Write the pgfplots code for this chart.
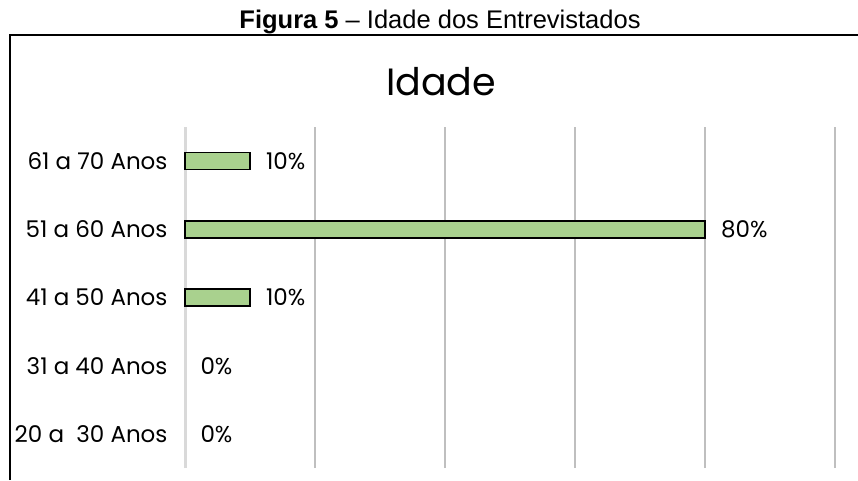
\documentclass[border=0pt]{standalone}
\usepackage{pgfplots}
\pgfplotsset{compat=1.18}
\usepackage{fontspec}
\setmainfont{Poppins}
\newfontfamily\capfont{Liberation Sans}
\definecolor{barfill}{HTML}{A9D18E}
\definecolor{gridgray}{HTML}{BFBFBF}
\definecolor{axisgray}{HTML}{D9D9D9}

\begin{document}
\begin{tikzpicture}[x=1pt,y=1pt]
  \useasboundingbox (0pt,0pt) rectangle (858pt,480pt);
  % chart frame (only left and top edges are visible)
  \draw[line width=1.8pt] (10pt,0pt) -- (10pt,445pt) -- (858pt,445pt);
  % figure caption
  \node[font=\capfont\fontsize{25.5}{30}\selectfont, anchor=base, inner sep=0pt] at (440pt,451pt)
    {\textbf{Figura 5} – Idade dos Entrevistados};
  % chart title
  \node[font=\fontsize{38}{44}\selectfont] at (441pt,398pt) {Idade};

  \begin{axis}[
    at={(185pt,12pt)}, anchor=south west,
    scale only axis,
    width=650pt, height=341pt,
    xbar, bar width=17pt, bar shift=0pt,
    xmin=0, xmax=100,
    ymin=-0.5, ymax=4.5,
    xtick={20,40,60,80,100},
    xticklabels={},
    extra x ticks={0},
    extra x tick labels={},
    extra x tick style={grid style={draw=axisgray, line width=3pt}},
    xmajorgrids,
    grid style={draw=gridgray, line width=1.3pt},
    major tick length=0,
    ytick={0,1,2,3,4},
    yticklabels={20 a \ 30 Anos, 31 a 40 Anos, 41 a 50 Anos, 51 a 60 Anos, 61 a 70 Anos},
    yticklabel style={font=\fontsize{23}{27}\selectfont, xshift=-14pt},
    axis line style={draw=none},
    clip=false,
    /pgf/number format/assume math mode=true,
    nodes near coords={\pgfmathprintnumber{\pgfplotspointmeta}\%},
    nodes near coords style={font=\fontsize{23}{27}\selectfont, anchor=west, xshift=12pt},
  ]
    \addplot[fill=barfill, draw=black, line width=1.5pt] coordinates {
      (10,2) (80,3) (10,4)
    };
    \addplot[draw=none, fill=none] coordinates {
      (0,0) (0,1)
    };
  \end{axis}
\end{tikzpicture}
\end{document}
